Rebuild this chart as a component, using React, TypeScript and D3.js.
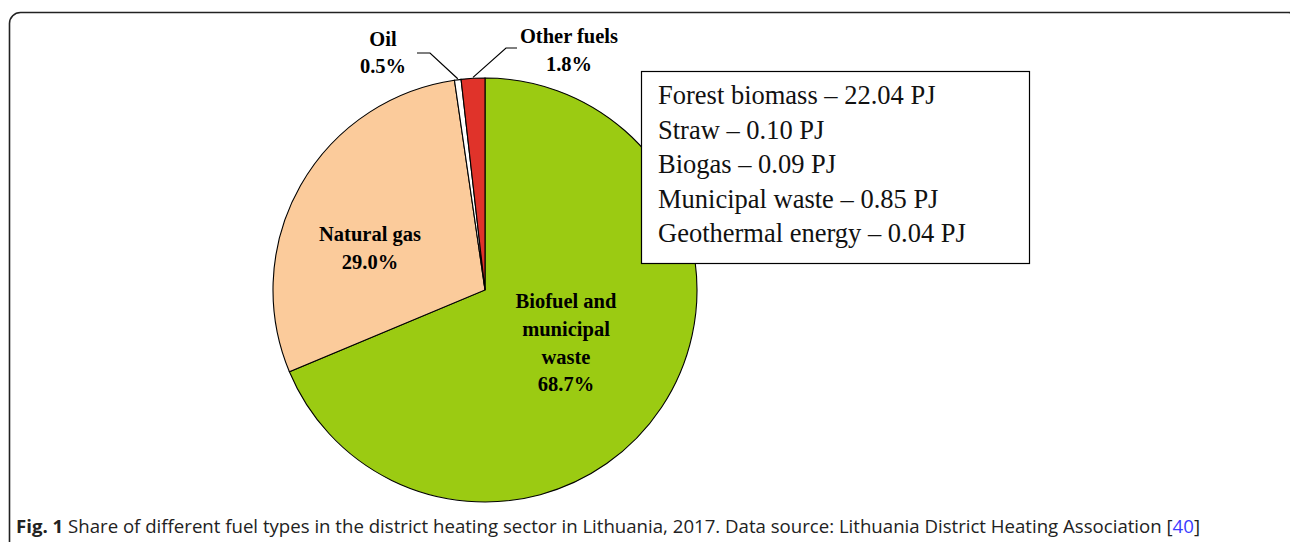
import * as d3 from 'd3'

// Fuel shares, clockwise from 12 o'clock
const categories = ['Biofuel and municipal waste', 'Natural gas', 'Oil', 'Other fuels']
const shares     = [68.7, 29.0, 0.5, 1.8]
const colors     = ['#9bcb12', '#fbcb9b', '#ffffff', '#e0332a']

// Breakdown of the biofuel slice (box at the right)
const breakdownNames  = ['Forest biomass', 'Straw', 'Biogas', 'Municipal waste', 'Geothermal energy']
const breakdownValues = [22.04, 0.10, 0.09, 0.85, 0.04]

const W = 1290
const H = 542
const CX = 485
const CY = 290
const R  = 212

const SERIF = '"Liberation Serif", "Times New Roman", serif'
const LABEL = { fontFamily: SERIF, fontWeight: 700, fontSize: 20.5, fill: '#000' }

export default function App() {
  const pie = d3.pie<number>().sort(null).value((d) => d)
  const arcs = pie(shares)
  const arcGen = d3.arc<d3.PieArcDatum<number>>().innerRadius(0).outerRadius(R)

  // points on the rim for the leader lines of the two thin slices
  const rim = (a: number, r: number) => [CX + r * Math.sin(a), CY - r * Math.cos(a)]
  const oilMid   = (arcs[2].startAngle + arcs[2].endAngle) / 2
  const otherMid = (arcs[3].startAngle + arcs[3].endAngle) / 2
  const [ox, oy] = rim(oilMid, R)
  const [tx, ty] = rim(otherMid, R)

  const fmtPct = (v: number) => `${v.toFixed(1)}%`

  return (
    <svg width={W} height={H} style={{ position: 'absolute', left: 0, top: 0, display: 'block' }}>
      <rect x={0} y={0} width={W} height={H} fill="#fff" />
      {/* frame */}
      <rect x={9.5} y={12.5} width={1290} height={560} rx={11} ry={11}
        fill="none" stroke="#222" strokeWidth={1.6} />

      {/* slices */}
      <g transform={`translate(${CX},${CY})`}>
        {arcs.map((a, i) => (
          <path key={categories[i]} d={arcGen(a) ?? ''} fill={colors[i]} stroke="#000" strokeWidth={1.1} />
        ))}
      </g>

      {/* leader lines */}
      <polyline points={`417,53 430,53 ${ox},${oy - 1}`} fill="none" stroke="#000" strokeWidth={1.2} />
      <polyline points={`517,48 506,48 ${tx},${ty - 1}`} fill="none" stroke="#000" strokeWidth={1.2} />

      {/* slice labels */}
      <text x={383} y={46} textAnchor="middle" style={LABEL}>Oil</text>
      <text x={383} y={73} textAnchor="middle" style={LABEL}>{fmtPct(shares[2])}</text>
      <text x={569} y={43} textAnchor="middle" style={LABEL}>Other fuels</text>
      <text x={569} y={71} textAnchor="middle" style={LABEL}>{fmtPct(shares[3])}</text>
      <text x={370} y={241} textAnchor="middle" style={LABEL}>Natural gas</text>
      <text x={370} y={269} textAnchor="middle" style={LABEL}>{fmtPct(shares[1])}</text>
      <text x={566} y={308} textAnchor="middle" style={LABEL}>Biofuel and</text>
      <text x={566} y={336} textAnchor="middle" style={LABEL}>municipal</text>
      <text x={566} y={364} textAnchor="middle" style={LABEL}>waste</text>
      <text x={566} y={391} textAnchor="middle" style={LABEL}>{fmtPct(shares[0])}</text>

      {/* breakdown box */}
      <rect x={641.5} y={71.5} width={388} height={192} fill="#fff" stroke="#000" strokeWidth={1.2} />
      {breakdownNames.map((n, i) => (
        <text key={n} x={658} y={104 + i * 34.6}
          style={{ fontFamily: SERIF, fontSize: 26.5, fill: '#111' }}>
          {`${n} – ${breakdownValues[i].toFixed(2)} PJ`}
        </text>
      ))}

      {/* caption */}
      <text x={16} y={533} textLength={1184} lengthAdjust="spacingAndGlyphs"
        style={{ fontFamily: '"Open Sans", sans-serif', fontSize: 18, fill: '#222' }}>
        <tspan fontWeight={700}>Fig. 1</tspan>
        <tspan> Share of different fuel types in the district heating sector in Lithuania, 2017. Data source: Lithuania District Heating Association [</tspan>
        <tspan fill="#3b3bff">40</tspan>
        <tspan>]</tspan>
      </text>
    </svg>
  )
}
